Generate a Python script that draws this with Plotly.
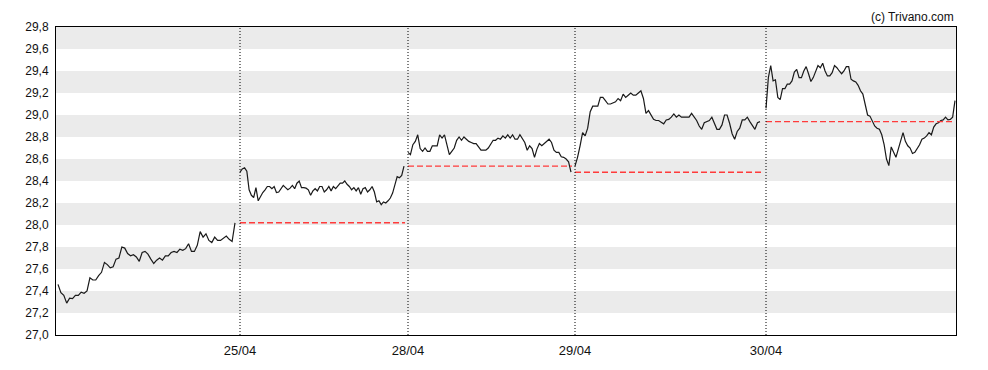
import plotly.graph_objects as go
import numpy as np

day_labels = ["25/04", "28/04", "29/04", "30/04"]

day1 = [27.46, 27.385, 27.36, 27.29, 27.335, 27.33, 27.36, 27.36, 27.39, 27.38, 27.40, 27.52, 27.50, 27.50,
        27.54, 27.57, 27.66, 27.64, 27.61, 27.62, 27.69, 27.70, 27.80, 27.79, 27.74, 27.72, 27.73, 27.71,
        27.67, 27.75, 27.76, 27.735, 27.69, 27.65, 27.68, 27.70, 27.68, 27.72, 27.72, 27.75, 27.76, 27.75,
        27.78, 27.77, 27.785, 27.83, 27.76, 27.76, 27.815, 27.94, 27.89, 27.92, 27.86, 27.84, 27.89, 27.86,
        27.86, 27.88, 27.90, 27.87, 27.85, 28.02]
day2 = [28.48, 28.51, 28.52, 28.49, 28.32, 28.27, 28.25, 28.34, 28.22, 28.26, 28.295, 28.32, 28.35, 28.35,
        28.33, 28.35, 28.295, 28.30, 28.33, 28.36, 28.34, 28.32, 28.335, 28.36, 28.33, 28.38, 28.40, 28.34,
        28.34, 28.335, 28.32, 28.27, 28.31, 28.33, 28.31, 28.35, 28.35, 28.30, 28.32, 28.35, 28.31, 28.35,
        28.33, 28.36, 28.38, 28.38, 28.40, 28.37, 28.35, 28.32, 28.34, 28.31, 28.34, 28.28, 28.33, 28.34,
        28.30, 28.32, 28.35, 28.30, 28.21, 28.22, 28.185, 28.21, 28.20, 28.22, 28.245, 28.29, 28.38, 28.44,
        28.43, 28.45, 28.535]
day3 = [28.66, 28.64, 28.73, 28.76, 28.82, 28.695, 28.67, 28.70, 28.67, 28.67, 28.72, 28.72, 28.72, 28.82,
        28.79, 28.82, 28.74, 28.64, 28.67, 28.70, 28.77, 28.80, 28.77, 28.80, 28.78, 28.76, 28.75, 28.74,
        28.74, 28.71, 28.68, 28.68, 28.68, 28.70, 28.73, 28.77, 28.77, 28.79, 28.78, 28.81, 28.79, 28.82,
        28.79, 28.82, 28.78, 28.78, 28.82, 28.78, 28.75, 28.68, 28.72, 28.695, 28.615, 28.69, 28.74, 28.72,
        28.74, 28.76, 28.78, 28.75, 28.68, 28.66, 28.66, 28.62, 28.615, 28.60, 28.575, 28.48]
day4 = [28.535, 28.615, 28.72, 28.84, 28.81, 28.88, 29.03, 29.08, 29.08, 29.08, 29.16, 29.16, 29.13, 29.10,
        29.10, 29.11, 29.12, 29.15, 29.13, 29.19, 29.16, 29.18, 29.20, 29.18, 29.18, 29.20, 29.22, 29.15,
        29.015, 29.04, 29.00, 28.96, 28.95, 28.95, 28.935, 28.92, 28.955, 28.96, 28.98, 29.01, 28.98, 29.00,
        28.98, 28.98, 28.98, 28.98, 29.015, 28.98, 28.95, 28.90, 28.87, 28.93, 28.94, 28.95, 28.98, 28.93,
        28.87, 28.87, 28.91, 29.00, 29.00, 28.925, 28.83, 28.78, 28.85, 28.88, 28.955, 28.955, 28.98, 28.94,
        28.90, 28.87, 28.93, 28.94]
day5 = [29.06, 29.34, 29.45, 29.31, 29.32, 29.16, 29.14, 29.24, 29.24, 29.28, 29.28, 29.31, 29.39, 29.415,
        29.34, 29.34, 29.40, 29.44, 29.375, 29.305, 29.34, 29.39, 29.45, 29.43, 29.47, 29.40, 29.355, 29.355,
        29.385, 29.45, 29.43, 29.40, 29.375, 29.40, 29.44, 29.44, 29.325, 29.31, 29.30, 29.27, 29.22, 29.19,
        29.09, 29.00, 28.99, 28.95, 28.90, 28.88, 28.87, 28.82, 28.73, 28.60, 28.54, 28.71, 28.66, 28.615,
        28.69, 28.76, 28.84, 28.76, 28.72, 28.70, 28.65, 28.66, 28.69, 28.73, 28.78, 28.79, 28.81, 28.84,
        28.82, 28.89, 28.92, 28.93, 28.95, 28.955, 28.98, 28.955, 28.96, 28.98, 29.13]

days = [day1, day2, day3, day4, day5]
# time-slot spans of each session on the x axis (session start slot, session end slot)
session_spans = [(2, 179), (184, 348), (352, 515), (519, 704), (710, 899)]
axis_span = (0, 900)

y_ticks = [27.0, 27.2, 27.4, 27.6, 27.8, 28.0, 28.2, 28.4, 28.6, 28.8, 29.0, 29.2, 29.4, 29.6, 29.8]
y_labels = [f"{v:.1f}".replace(".", ",") for v in y_ticks]

fig = go.Figure()

# alternating grey bands
shapes = []
for i in range(len(y_ticks) - 1):
    if i % 2 == 1:
        shapes.append(dict(type="rect", xref="paper", yref="y", x0=0, x1=1,
                           y0=y_ticks[i], y1=y_ticks[i + 1], fillcolor="#ebebeb",
                           line=dict(width=0), layer="below"))

# day separators (dotted)
sep_x = [s[0] for s in session_spans[1:]]
for sx in sep_x:
    shapes.append(dict(type="line", xref="x", yref="paper", x0=sx, x1=sx, y0=0, y1=1,
                       line=dict(color="black", width=1, dash="1px,2px"), layer="above"))

for k, vals in enumerate(days):
    a, b = session_spans[k]
    xs = np.linspace(a, b, len(vals))
    fig.add_trace(go.Scatter(x=xs, y=vals, mode="lines",
                             line=dict(color="#1a1a1a", width=1.2), hoverinfo="skip",
                             showlegend=False))
    if k > 0:
        prev_close = days[k - 1][-1]
        end = session_spans[k + 1][0] if k + 1 < len(days) else axis_span[1]
        fig.add_trace(go.Scatter(x=[a, end - 3], y=[prev_close, prev_close], mode="lines",
                                 line=dict(color="#ff3b3b", width=1.4, dash="6px,3px"),
                                 hoverinfo="skip", showlegend=False))

fig.update_layout(
    width=980, height=362,
    margin=dict(l=48, r=32, t=12, b=35),
    paper_bgcolor="white", plot_bgcolor="white",
    font=dict(family="Liberation Sans, Arial, sans-serif", size=12, color="#111"),
    shapes=shapes,
    xaxis=dict(range=list(axis_span), tickmode="array", tickvals=sep_x, ticktext=day_labels,
               showgrid=False, zeroline=False, showline=True, linecolor="black", linewidth=1,
               mirror=True, ticks="", fixedrange=True, tickfont=dict(size=13),
               ticklabelstandoff=3),
    yaxis=dict(range=[y_ticks[0], y_ticks[-1]], tickmode="array", tickvals=y_ticks,
               ticktext=y_labels, showgrid=False, zeroline=False, showline=True,
               linecolor="black", linewidth=1, mirror=True, ticks="", fixedrange=True,
               tickfont=dict(size=12), ticklabelstandoff=4),
    annotations=[dict(text="(c) Trivano.com", xref="paper", yref="paper", x=1, y=1,
                      xanchor="right", yanchor="bottom", yshift=1, showarrow=False,
                      font=dict(size=12, color="#111"))],
)

fig.write_html("out.html")
